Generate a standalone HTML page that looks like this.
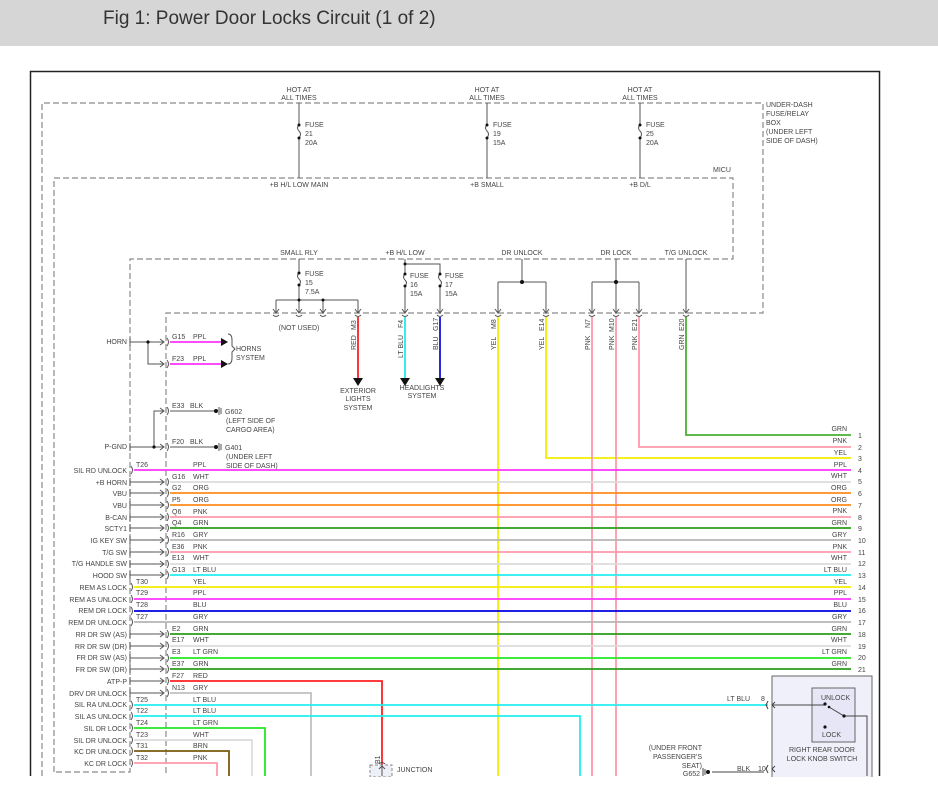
<!DOCTYPE html>
<html><head><meta charset="utf-8"><style>
html,body{margin:0;padding:0;background:#fff;width:938px;height:803px;overflow:hidden}
.hdr{position:absolute;left:0;top:0;width:938px;height:46px;background:#d6d6d6}
.hdr span{position:absolute;left:103px;top:8px;font:19px "Liberation Sans",sans-serif;color:#333}
svg{position:absolute;left:0;top:0}
text{font-family:"Liberation Sans",sans-serif;font-size:7px;fill:#444}
</style></head><body>
<div class="hdr"><span>Fig 1: Power Door Locks Circuit (1 of 2)</span></div>
<svg width="938" height="803" viewBox="0 0 938 803">
<rect x="30.5" y="71.5" width="849" height="740" fill="none" stroke="#222" stroke-width="1.5"/>
<g fill="none" stroke="#8a8a8a" stroke-width="1.2" stroke-dasharray="6,3">
<path d="M42,803 V103 H763 V313 H166 V803"/>
<path d="M54,772 V178 H733 V259 H130 V772 H54"/>
</g>
<rect x="0" y="776" width="938" height="27" fill="#fff"/>
<!-- top fuses -->
<g stroke="#555" stroke-width="1" fill="none">
<path d="M299,103 V125 M299,138 V178 M487,103 V125 M487,138 V178 M640,103 V125 M640,138 V178"/>
<path d="M299,125 q-3,3 0,6 q3,3 0,7 M487,125 q-3,3 0,6 q3,3 0,7 M640,125 q-3,3 0,6 q3,3 0,7"/>
</g>
<g fill="#111"><circle cx="299" cy="125" r="1.5"/><circle cx="299" cy="138" r="1.5"/><circle cx="487" cy="125" r="1.5"/><circle cx="487" cy="138" r="1.5"/><circle cx="640" cy="125" r="1.5"/><circle cx="640" cy="138" r="1.5"/></g>
<g text-anchor="middle"><text x="299" y="92">HOT AT</text><text x="299" y="100">ALL TIMES</text><text x="487" y="92">HOT AT</text><text x="487" y="100">ALL TIMES</text><text x="640" y="92">HOT AT</text><text x="640" y="100">ALL TIMES</text>
<text x="299" y="187">+B H/L LOW MAIN</text><text x="487" y="187">+B SMALL</text><text x="640" y="187">+B D/L</text></g>
<text x="305" y="127">FUSE</text><text x="305" y="136">21</text><text x="305" y="145">20A</text>
<text x="493" y="127">FUSE</text><text x="493" y="136">19</text><text x="493" y="145">15A</text>
<text x="646" y="127">FUSE</text><text x="646" y="136">25</text><text x="646" y="145">20A</text>
<text x="766" y="107">UNDER-DASH</text><text x="766" y="116">FUSE/RELAY</text><text x="766" y="125">BOX</text><text x="766" y="134">(UNDER LEFT</text><text x="766" y="143">SIDE OF DASH)</text>
<text x="713" y="172">MICU</text>
<g text-anchor="middle"><text x="299" y="255">SMALL RLY</text><text x="405" y="255">+B H/L LOW</text><text x="522" y="255">DR UNLOCK</text><text x="616" y="255">DR LOCK</text><text x="686" y="255">T/G UNLOCK</text></g>
<!-- second level -->
<g stroke="#555" stroke-width="1" fill="none">
<path d="M299,259 V273 M299,285 V300 M276,300 H358 M276,300 V312 M299,300 V312 M323,300 V312 M358,300 V312"/>
<path d="M299,273 q-3,3 0,6 q3,3 0,6"/>
<path d="M405,259 V274 M405,286 V312 M405,264 H440 V274 M440,286 V312"/>
<path d="M405,274 q-3,3 0,6 q3,3 0,6 M440,274 q-3,3 0,6 q3,3 0,6"/>
<path d="M522,259 V282 M498,282 H546 M498,282 V312 M546,282 V312"/>
<path d="M616,259 V282 M592,282 H639 M592,282 V312 M616,282 V312 M639,282 V312"/>
<path d="M686,259 V312"/>
<path d="M273,309 l3,4 l3,-4 M296,309 l3,4 l3,-4 M320,309 l3,4 l3,-4 M355,309 l3,4 l3,-4 M402,309 l3,4 l3,-4 M437,309 l3,4 l3,-4 M495,309 l3,4 l3,-4 M543,309 l3,4 l3,-4 M589,309 l3,4 l3,-4 M613,309 l3,4 l3,-4 M636,309 l3,4 l3,-4 M683,309 l3,4 l3,-4"/>
<path d="M273,315 q3,3 6,0 M296,315 q3,3 6,0 M320,315 q3,3 6,0 M355,315 q3,3 6,0 M402,315 q3,3 6,0 M437,315 q3,3 6,0 M495,315 q3,3 6,0 M543,315 q3,3 6,0 M589,315 q3,3 6,0 M613,315 q3,3 6,0 M636,315 q3,3 6,0 M683,315 q3,3 6,0"/>
</g>
<g fill="#111"><circle cx="299" cy="273" r="1.5"/><circle cx="299" cy="285" r="1.5"/><circle cx="299" cy="300" r="1.5"/><circle cx="323" cy="300" r="1.5"/><circle cx="405" cy="264" r="1.5"/><circle cx="405" cy="274" r="1.5"/><circle cx="405" cy="286" r="1.5"/><circle cx="440" cy="274" r="1.5"/><circle cx="440" cy="286" r="1.5"/><circle cx="522" cy="282" r="2"/><circle cx="616" cy="282" r="2"/></g>
<text x="305" y="276">FUSE</text><text x="305" y="285">15</text><text x="305" y="294">7.5A</text>
<text x="410" y="278">FUSE</text><text x="410" y="287">16</text><text x="410" y="296">15A</text>
<text x="445" y="278">FUSE</text><text x="445" y="287">17</text><text x="445" y="296">15A</text>
<text x="299" y="330" text-anchor="middle">(NOT USED)</text>
<!-- colored verticals from MICU -->
<g fill="none" stroke-width="1.8">
<path d="M358,317 V380" stroke="#ff2020"/>
<path d="M405,317 V380" stroke="#22e8f0"/>
<path d="M440,317 V380" stroke="#1010e0"/>
<path d="M498,317 V776" stroke="#f2ee00"/>
<path d="M546,317 V458 H851" stroke="#f2ee00"/>
<path d="M592,317 V776" stroke="#ff99aa"/>
<path d="M616,317 V776" stroke="#ff99aa"/>
<path d="M639,317 V447 H851" stroke="#ff99aa"/>
<path d="M686,317 V435 H851" stroke="#4ab030"/>
</g>
<g fill="#111"><path d="M353,378 h10 l-5,8z M400,378 h10 l-5,8z M435,378 h10 l-5,8z"/></g>
<g text-anchor="middle"><text x="358" y="393">EXTERIOR</text><text x="358" y="401">LIGHTS</text><text x="358" y="410">SYSTEM</text><text x="422" y="390">HEADLIGHTS</text><text x="422" y="398">SYSTEM</text></g>
<g>
<text transform="translate(356,330) rotate(-90)">M3</text><text transform="translate(356,350) rotate(-90)">RED</text>
<text transform="translate(403,328) rotate(-90)">F4</text><text transform="translate(403,358) rotate(-90)">LT BLU</text>
<text transform="translate(438,331) rotate(-90)">G17</text><text transform="translate(438,350) rotate(-90)">BLU</text>
<text transform="translate(496,329) rotate(-90)">M8</text><text transform="translate(496,350) rotate(-90)">YEL</text>
<text transform="translate(544,331) rotate(-90)">E14</text><text transform="translate(544,350) rotate(-90)">YEL</text>
<text transform="translate(590,328) rotate(-90)">N7</text><text transform="translate(590,350) rotate(-90)">PNK</text>
<text transform="translate(614,332) rotate(-90)">M10</text><text transform="translate(614,350) rotate(-90)">PNK</text>
<text transform="translate(637,331) rotate(-90)">E21</text><text transform="translate(637,350) rotate(-90)">PNK</text>
<text transform="translate(684,331) rotate(-90)">E20</text><text transform="translate(684,350) rotate(-90)">GRN</text>
</g>
<!-- horn -->
<g stroke="#555" fill="none" stroke-width="1">
<path d="M130,338 V346 M130,342 H164 M148,342 V364 H164 M160,339 l4,3 l-4,3 M160,361 l4,3 l-4,3 M167,338 q3,4 0,8 M167,360 q3,4 0,8"/>
<path d="M228,334 q4,0 4,6 v6 l3,3 l-3,3 v6 q0,6 -4,6"/>
<path d="M130,443 V451 M130,447 H164 M154,447 V411 H164 M160,408 l4,3 l-4,3 M160,444 l4,3 l-4,3 M167,407 q3,4 0,8 M167,443 q3,4 0,8"/>
<path d="M170,411 H215 M170,447 H215 M219,407 v8 M221,408 v6 M219,443 v8 M221,444 v6"/>
</g>
<g stroke="#ff33ff" stroke-width="1.8"><path d="M170,342 H222 M170,364 H222"/></g>
<g fill="#111"><circle cx="148" cy="342" r="1.6"/><circle cx="154" cy="447" r="1.6"/><circle cx="216" cy="411" r="2"/><circle cx="216" cy="447" r="2"/><path d="M221,338 l7,4 l-7,4z M221,360 l7,4 l-7,4z"/></g>
<text x="127" y="344" text-anchor="end">HORN</text><text x="127" y="449" text-anchor="end">P-GND</text>
<text x="172" y="339">G15</text><text x="193" y="339">PPL</text><text x="172" y="361">F23</text><text x="193" y="361">PPL</text>
<text x="236" y="351">HORNS</text><text x="236" y="360">SYSTEM</text>
<text x="172" y="408">E33</text><text x="190" y="408">BLK</text><text x="172" y="444">F20</text><text x="190" y="444">BLK</text>
<text x="225" y="414">G602</text><text x="226" y="423">(LEFT SIDE OF</text><text x="226" y="432">CARGO AREA)</text>
<text x="225" y="450">G401</text><text x="226" y="459">(UNDER LEFT</text><text x="226" y="468">SIDE OF DASH)</text>
<!-- rows: grey stubs for 166 connectors -->
<g stroke="#555" fill="none" stroke-width="1">
<path d="M130,478 V486 M130,482 H164 M130,489 V497 M130,493 H164 M130,501 V509 M130,505 H164 M130,513 V521 M130,517 H164 M130,524 V532 M130,528 H164 M130,536 V544 M130,540 H164 M130,548 V556 M130,552 H164 M130,560 V568 M130,564 H164 M130,571 V579 M130,575 H164 M130,630 V638 M130,634 H164 M130,642 V650 M130,646 H164 M130,654 V662 M130,658 H164 M130,665 V673 M130,669 H164 M130,677 V685 M130,681 H164 M130,689 V697 M130,693 H164"/>
<path d="M160,479 l4,3 l-4,3 M160,490 l4,3 l-4,3 M160,502 l4,3 l-4,3 M160,514 l4,3 l-4,3 M160,525 l4,3 l-4,3 M160,537 l4,3 l-4,3 M160,549 l4,3 l-4,3 M160,561 l4,3 l-4,3 M160,572 l4,3 l-4,3 M160,631 l4,3 l-4,3 M160,643 l4,3 l-4,3 M160,655 l4,3 l-4,3 M160,666 l4,3 l-4,3 M160,678 l4,3 l-4,3 M160,690 l4,3 l-4,3"/>
<path d="M167,478 q3,4 0,8 M167,489 q3,4 0,8 M167,501 q3,4 0,8 M167,513 q3,4 0,8 M167,524 q3,4 0,8 M167,536 q3,4 0,8 M167,548 q3,4 0,8 M167,560 q3,4 0,8 M167,571 q3,4 0,8 M167,630 q3,4 0,8 M167,642 q3,4 0,8 M167,654 q3,4 0,8 M167,665 q3,4 0,8 M167,677 q3,4 0,8 M167,689 q3,4 0,8"/>
<path d="M131,466 q3,4 0,8 M131,583 q3,4 0,8 M131,595 q3,4 0,8 M131,607 q3,4 0,8 M131,618 q3,4 0,8 M131,701 q3,4 0,8 M131,712 q3,4 0,8 M131,724 q3,4 0,8 M131,736 q3,4 0,8 M131,747 q3,4 0,8 M131,759 q3,4 0,8"/>
</g>
<g fill="none" stroke-width="1.8">
<path d="M134,470 H851" stroke="#ff33ff"/>
<path d="M170,482 H851" stroke="#dcdcdc"/>
<path d="M170,493 H851" stroke="#ff8c1a"/>
<path d="M170,505 H851" stroke="#ff8c1a"/>
<path d="M170,517 H851" stroke="#ff99aa"/>
<path d="M170,528 H851" stroke="#2a9e18"/>
<path d="M170,540 H851" stroke="#b4b4b4"/>
<path d="M170,552 H851" stroke="#ff99aa"/>
<path d="M170,564 H851" stroke="#dcdcdc"/>
<path d="M170,575 H851" stroke="#22eef0"/>
<path d="M134,587 H851" stroke="#f2ee00"/>
<path d="M134,599 H851" stroke="#ff33ff"/>
<path d="M134,611 H851" stroke="#0000e0"/>
<path d="M134,622 H851" stroke="#b4b4b4"/>
<path d="M170,634 H851" stroke="#2a9e18"/>
<path d="M170,646 H851" stroke="#dcdcdc"/>
<path d="M170,658 H851" stroke="#22e822"/>
<path d="M170,669 H851" stroke="#2a9e18"/>
<path d="M170,681 H382 V766" stroke="#ff2020"/>
<path d="M170,693 H311 V776" stroke="#c0c0c0"/>
<path d="M134,705 H768" stroke="#22eef0"/>
<path d="M134,716 H580 V776" stroke="#22eef0"/>
<path d="M134,728 H265 V776" stroke="#22e822"/>
<path d="M134,740 H252 V776" stroke="#dcdcdc"/>
<path d="M134,751 H229 V776" stroke="#7a5a10"/>
<path d="M134,763 H217 V776" stroke="#ff99aa"/>
</g>
<g text-anchor="end">
<text x="127" y="473">SIL RD UNLOCK</text><text x="127" y="485">+B HORN</text><text x="127" y="496">VBU</text><text x="127" y="508">VBU</text><text x="127" y="520">B-CAN</text><text x="127" y="531">SCTY1</text><text x="127" y="543">IG KEY SW</text><text x="127" y="555">T/G SW</text><text x="127" y="566">T/G HANDLE SW</text><text x="127" y="578">HOOD SW</text><text x="127" y="590">REM AS LOCK</text><text x="127" y="602">REM AS UNLOCK</text><text x="127" y="613">REM DR LOCK</text><text x="127" y="625">REM DR UNLOCK</text><text x="127" y="637">RR DR SW (AS)</text><text x="127" y="649">RR DR SW (DR)</text><text x="127" y="660">FR DR SW (AS)</text><text x="127" y="672">FR DR SW (DR)</text><text x="127" y="684">ATP-P</text><text x="127" y="696">DRV DR UNLOCK</text><text x="127" y="707">SIL RA UNLOCK</text><text x="127" y="719">SIL AS UNLOCK</text><text x="127" y="731">SIL DR LOCK</text><text x="127" y="743">SIL DR UNLOCK</text><text x="127" y="754">KC DR UNLOCK</text><text x="127" y="766">KC DR LOCK</text>
<text x="847" y="431">GRN</text><text x="847" y="443">PNK</text><text x="847" y="455">YEL</text><text x="847" y="467">PPL</text><text x="847" y="478">WHT</text><text x="847" y="490">ORG</text><text x="847" y="502">ORG</text><text x="847" y="513">PNK</text><text x="847" y="525">GRN</text><text x="847" y="537">GRY</text><text x="847" y="549">PNK</text><text x="847" y="560">WHT</text><text x="847" y="572">LT BLU</text><text x="847" y="584">YEL</text><text x="847" y="595">PPL</text><text x="847" y="607">BLU</text><text x="847" y="619">GRY</text><text x="847" y="631">GRN</text><text x="847" y="642">WHT</text><text x="847" y="654">LT GRN</text><text x="847" y="666">GRN</text>
</g>
<g><text x="858" y="438">1</text><text x="858" y="450">2</text><text x="858" y="461">3</text><text x="858" y="473">4</text><text x="858" y="484">5</text><text x="858" y="496">6</text><text x="858" y="508">7</text><text x="858" y="520">8</text><text x="858" y="531">9</text><text x="858" y="543">10</text><text x="858" y="555">11</text><text x="858" y="566">12</text><text x="858" y="578">13</text><text x="858" y="590">14</text><text x="858" y="602">15</text><text x="858" y="613">16</text><text x="858" y="625">17</text><text x="858" y="637">18</text><text x="858" y="649">19</text><text x="858" y="660">20</text><text x="858" y="672">21</text></g>
<g>
<text x="136" y="467">T26</text><text x="193" y="467">PPL</text>
<text x="172" y="479">G16</text><text x="193" y="479">WHT</text>
<text x="172" y="490">G2</text><text x="193" y="490">ORG</text>
<text x="172" y="502">P5</text><text x="193" y="502">ORG</text>
<text x="172" y="514">Q6</text><text x="193" y="514">PNK</text>
<text x="172" y="525">Q4</text><text x="193" y="525">GRN</text>
<text x="172" y="537">R16</text><text x="193" y="537">GRY</text>
<text x="172" y="549">E36</text><text x="193" y="549">PNK</text>
<text x="172" y="560">E13</text><text x="193" y="560">WHT</text>
<text x="172" y="572">G13</text><text x="193" y="572">LT BLU</text>
<text x="136" y="584">T30</text><text x="193" y="584">YEL</text>
<text x="136" y="595">T29</text><text x="193" y="595">PPL</text>
<text x="136" y="607">T28</text><text x="193" y="607">BLU</text>
<text x="136" y="619">T27</text><text x="193" y="619">GRY</text>
<text x="172" y="631">E2</text><text x="193" y="631">GRN</text>
<text x="172" y="642">E17</text><text x="193" y="642">WHT</text>
<text x="172" y="654">E3</text><text x="193" y="654">LT GRN</text>
<text x="172" y="666">E37</text><text x="193" y="666">GRN</text>
<text x="172" y="678">F27</text><text x="193" y="678">RED</text>
<text x="172" y="690">N13</text><text x="193" y="690">GRY</text>
<text x="136" y="702">T25</text><text x="193" y="702">LT BLU</text>
<text x="136" y="713">T22</text><text x="193" y="713">LT BLU</text>
<text x="136" y="725">T24</text><text x="193" y="725">LT GRN</text>
<text x="136" y="737">T23</text><text x="193" y="737">WHT</text>
<text x="136" y="748">T31</text><text x="193" y="748">BRN</text>
<text x="136" y="760">T32</text><text x="193" y="760">PNK</text>
</g>
<!-- junction -->
<rect x="370" y="765" width="22" height="12" fill="#eef0f8" stroke="#888" stroke-dasharray="3,2"/>
<path d="M379,764 q3,-3 6,0 M382,766 V776 M379,769 l3,-3 l3,3" stroke="#555" fill="none"/>
<text transform="translate(380,764) rotate(-90)">B1</text>
<text x="397" y="772">JUNCTION</text>
<!-- switch -->
<rect x="772" y="676" width="100" height="110" fill="#f0f0fb" stroke="#666"/>
<rect x="812" y="688" width="43" height="54" fill="#e6e6f6" stroke="#666"/>
<g stroke="#444" fill="none" stroke-width="1">
<path d="M772,705 H825 M829,707 L844,716 H867 V776 M768,701 l-2,4 l2,4 M775,702 l-3,3 l3,3 M768,765 l-2,4 l2,4 M775,766 l-3,3 l3,3 M712,772 H764"/>
<path d="M703,768 v8 M705,769 v6"/>
</g>
<g fill="#111"><circle cx="825" cy="704" r="1.6"/><circle cx="829" cy="707" r="1.3"/><circle cx="844" cy="716" r="1.6"/><circle cx="825" cy="727" r="1.6"/><circle cx="708" cy="772" r="2"/></g>
<text x="821" y="700">UNLOCK</text><text x="822" y="737">LOCK</text>
<g text-anchor="middle"><text x="822" y="752">RIGHT REAR DOOR</text><text x="822" y="761">LOCK KNOB SWITCH</text></g>
<text x="727" y="701">LT BLU</text><text x="761" y="701">8</text>
<text x="737" y="771">BLK</text><text x="758" y="771">10</text>
<g text-anchor="end"><text x="702" y="750">(UNDER FRONT</text><text x="702" y="759">PASSENGER'S</text><text x="702" y="768">SEAT)</text><text x="700" y="776">G652</text></g>
<rect x="0" y="777" width="938" height="26" fill="#fff"/>
</svg>
</body></html>
